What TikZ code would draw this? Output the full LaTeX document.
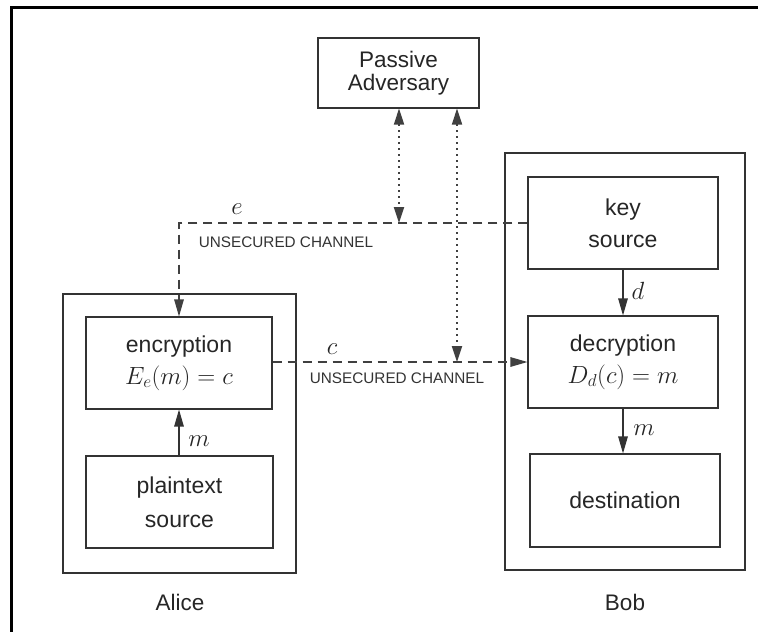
\documentclass[tikz,border=0pt]{standalone}
\usepackage{fontspec}
\setmainfont{Liberation Sans}
\usetikzlibrary{arrows.meta}
\begin{document}
\begin{tikzpicture}[x=1pt,y=-1pt,
  box/.style={draw=black!80,line width=1.1pt,inner sep=0pt,align=center,
    text=black!85,font=\fontsize{23}{34}\selectfont},
  frame/.style={draw=black!80,line width=1.1pt,inner sep=0pt},
  tip/.style={-{Triangle[length=17pt,width=9.5pt]}},
  bothtips/.style={{Triangle[length=16pt,width=10pt]}-{Triangle[length=16pt,width=10pt]}},
  channel/.style={draw=black!75,line width=1.2pt,dash pattern=on 9pt off 6pt},
  tap/.style={draw=black!75,line width=1.8pt,dash pattern=on 1.6pt off 4.4pt},
  solidline/.style={draw=black!80,line width=1.2pt},
  lbl/.style={text=black!85,font=\fontsize{24}{26}\selectfont,inner sep=0pt},
  chan/.style={text=black!80,font=\fontsize{15.3}{18}\selectfont,inner sep=0pt},
  who/.style={text=black!85,font=\fontsize{22.5}{26}\selectfont,inner sep=0pt}]
\useasboundingbox (0,0) rectangle (758,632);
\fill[white] (0,0) rectangle (758,632);
% page rule on top and left
\draw[line width=3pt,black] (11,632) -- (11,7.5) -- (758,7.5);

% adversary
\node[box,minimum width=161pt,minimum height=70pt,
  font=\fontsize{22.5}{23.5}\selectfont] (adv) at (398.5,73) {Passive\\Adversary};

% Alice
\node[frame,minimum width=233pt,minimum height=279pt] (alice) at (179.5,433.5) {};
\node[box,minimum width=186pt,minimum height=92pt] (enc) at (179,363)
  {encryption\\[-2pt]{\fontsize{24}{26}\selectfont$E_e(m)=c$}};
\node[box,minimum width=187pt,minimum height=92pt] (plain) at (179.5,502)
  {plaintext\\source};
\node[who] (alicelbl) at (180,602) {Alice};

% Bob
\node[frame,minimum width=240pt,minimum height=417pt] (bob) at (625,361.5) {};
\node[box,minimum width=190pt,minimum height=92pt] (key) at (623,223)
  {key\\[-2pt]source};
\node[box,minimum width=190pt,minimum height=92pt] (dec) at (623,362)
  {decryption\\[-2pt]{\fontsize{24}{26}\selectfont$D_d(c)=m$}};
\node[box,minimum width=190pt,minimum height=93pt] (dest) at (625,500.5)
  {destination};
\node[who] (boblbl) at (625,602) {Bob};

% key channel to Alice
\coordinate (ecorner) at (enc.north |- key.west);
\draw[channel,tip] (key.west) -- (ecorner) -- (enc.north);
\node[lbl] (elbl) at (237,209) {$e$};
\node[chan] (echan) at (286,242) {UNSECURED CHANNEL};

% ciphertext channel to Bob
\coordinate (cstart) at (enc.east |- dec.west);
\draw[channel,tip] (cstart) -- (dec.west);
\node[lbl] (clbl) at (332,349) {$c$};
\node[chan] (cchan) at (397,378) {UNSECURED CHANNEL};

% taps from the adversary
\coordinate (tapA) at ([xshift=0.5pt]adv.south);
\coordinate (tapAend) at (tapA |- key.west);
\draw[tap,bothtips] (tapA) -- (tapAend);
\coordinate (tapB) at ([xshift=58.5pt]adv.south);
\coordinate (tapBend) at (tapB |- dec.west);
\draw[tap,bothtips] (tapB) -- (tapBend);

% message flow inside the boxes
\draw[solidline,tip] (plain.north -| enc.south) -- (enc.south);
\node[lbl] (mA) at (199,441) {$m$};
\draw[solidline,tip] (key.south) -- (key.south |- dec.north);
\node[lbl] (dlbl) at (638,291) {$d$};
\draw[solidline,tip] (dec.south) -- (dec.south |- dest.north);
\node[lbl] (mB) at (644,430) {$m$};
\end{tikzpicture}
\end{document}
